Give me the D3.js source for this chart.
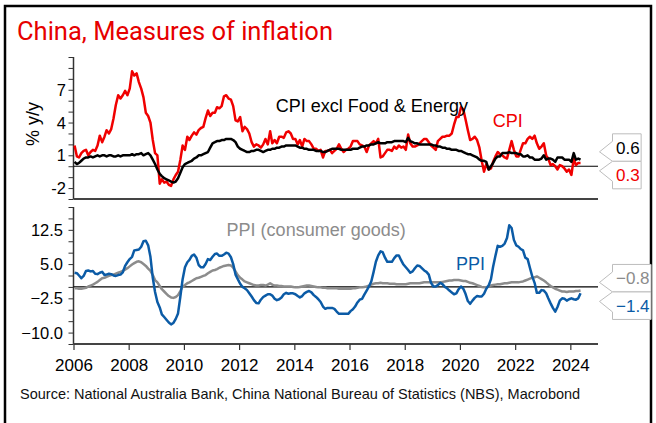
<!DOCTYPE html>
<html>
<head>
<meta charset="utf-8">
<script src="https://cdn.jsdelivr.net/npm/d3@7"></script>
<style>
  body { margin: 0; background: #fff; }
  svg { display: block; }
  text { font-family: "Liberation Sans", Arial, sans-serif; }
</style>
</head>
<body>
<svg id="chart" width="656" height="423"></svg>
<script>
// monthly y/y %, Jan 2006 .. May 2024
const startYear = 2006;

const cpi = [
  1.9,0.9,0.8,1.2,1.4,1.5,1.0,1.3,1.5,1.4,1.9,2.8,
  2.2,2.7,3.3,3.0,3.4,4.4,5.6,6.5,6.2,6.5,6.9,6.5,
  7.1,8.7,8.3,8.5,7.7,7.1,6.3,4.9,4.6,4.0,2.4,1.2,
  1.0,-1.6,-1.2,-1.5,-1.4,-1.7,-1.8,-1.2,-0.8,-0.5,0.6,1.9,
  1.5,2.7,2.4,2.8,3.1,2.9,3.3,3.5,3.6,4.4,5.1,4.6,
  4.9,4.9,5.4,5.3,5.5,6.4,6.5,6.2,6.1,5.5,4.2,4.1,
  4.5,3.2,3.6,3.4,3.0,2.2,1.8,2.0,1.9,1.7,2.0,2.5,
  2.0,3.2,2.1,2.4,2.1,2.7,2.7,2.6,3.1,3.2,3.0,2.5,
  2.5,2.0,2.4,1.8,2.5,2.3,2.3,2.0,1.6,1.6,1.4,1.5,
  0.8,1.4,1.4,1.5,1.2,1.4,1.6,2.0,1.6,1.3,1.5,1.6,
  1.8,2.3,2.3,2.3,2.0,1.9,1.8,1.3,1.9,2.1,2.3,2.1,
  2.5,0.8,0.9,1.2,1.5,1.5,1.4,1.8,1.6,1.9,1.7,1.8,
  1.5,2.9,2.1,1.8,1.8,1.9,2.1,2.3,2.5,2.5,2.2,1.9,
  1.7,1.5,2.3,2.5,2.7,2.7,2.8,2.8,3.0,3.8,4.5,4.5,
  5.4,5.2,4.3,3.3,2.4,2.5,2.7,2.4,1.7,0.5,-0.5,0.2,
  -0.3,-0.2,0.4,0.9,1.3,1.1,1.0,0.8,0.7,1.5,2.3,1.5,
  0.9,0.9,1.5,2.1,2.1,2.5,2.7,2.5,2.8,2.1,1.6,1.8,
  2.1,1.0,0.7,0.1,0.2,0.0,-0.3,0.1,0.0,-0.2,-0.5,-0.3,
  -0.8,0.7,0.1,0.3,0.3
];

const coreCpi = [
  0.4,0.2,0.3,0.5,0.7,0.8,0.8,0.9,0.8,0.9,1.0,0.9,
  1.0,1.0,0.9,1.0,1.0,0.9,0.9,1.0,0.9,1.0,1.0,1.0,
  1.0,1.1,1.0,1.1,1.1,1.2,1.0,1.1,1.2,1.0,0.6,0.2,
  -0.3,-0.7,-0.9,-1.1,-1.2,-1.3,-1.4,-1.5,-1.4,-1.1,-0.6,-0.1,
  0.2,0.3,0.4,0.5,0.7,0.8,1.0,1.0,1.1,1.2,1.3,1.7,
  2.1,2.2,2.3,2.3,2.4,2.4,2.5,2.5,2.5,2.4,2.2,1.8,
  1.6,1.5,1.4,1.3,1.3,1.4,1.4,1.5,1.5,1.4,1.3,1.4,
  1.5,1.5,1.6,1.6,1.7,1.7,1.8,1.8,1.9,1.9,1.9,1.9,
  1.9,1.8,1.7,1.7,1.6,1.6,1.5,1.5,1.5,1.4,1.4,1.4,
  1.3,1.3,1.4,1.5,1.6,1.6,1.6,1.6,1.5,1.5,1.5,1.5,
  1.5,1.6,1.6,1.6,1.7,1.8,1.8,1.9,1.9,2.0,2.0,2.1,
  2.2,2.1,2.1,2.1,2.2,2.2,2.2,2.3,2.3,2.3,2.3,2.3,
  2.2,2.6,2.3,2.2,2.1,2.1,2.0,2.0,2.0,2.0,2.0,2.0,
  1.9,1.9,1.8,1.8,1.7,1.7,1.6,1.6,1.5,1.5,1.5,1.4,
  1.4,1.3,1.2,1.1,1.1,1.0,0.9,0.8,0.6,0.5,0.5,0.4,
  -0.3,0.0,0.3,0.7,0.9,0.9,1.2,1.2,1.2,1.3,1.2,1.2,
  1.2,1.1,1.1,0.9,0.9,1.0,0.8,0.8,0.6,0.6,0.6,0.7,
  1.0,0.6,0.7,0.7,0.6,0.4,0.8,0.8,0.8,0.6,0.6,0.6,
  0.4,1.2,0.6,0.7,0.6
];

const ppi = [
  3.1,3.0,2.5,1.9,2.4,3.5,3.6,3.4,3.5,2.9,2.8,3.1,
  3.3,2.6,2.7,2.9,2.8,2.5,2.4,2.6,2.7,3.2,4.6,5.4,
  6.1,6.6,8.0,8.1,8.2,8.8,10.0,10.1,9.1,6.6,2.0,-1.1,
  -3.3,-4.5,-6.0,-6.6,-7.2,-7.8,-8.2,-7.9,-7.0,-5.8,-2.1,1.7,
  4.3,5.4,5.9,6.8,7.1,6.4,4.8,4.3,4.3,5.0,6.1,5.9,
  6.6,7.2,7.3,6.8,6.8,7.1,7.5,7.3,6.5,5.0,2.7,1.7,
  0.7,0.0,-0.3,-0.7,-1.4,-2.1,-2.9,-3.5,-3.6,-2.8,-2.2,-1.9,
  -1.6,-1.6,-1.9,-2.6,-2.9,-2.7,-2.3,-1.6,-1.3,-1.5,-1.4,-1.4,
  -1.6,-2.0,-2.3,-2.0,-1.4,-1.1,-0.9,-1.2,-1.8,-2.2,-2.7,-3.3,
  -4.3,-4.8,-4.6,-4.6,-4.6,-4.8,-5.4,-5.9,-5.9,-5.9,-5.9,-5.9,
  -5.3,-4.9,-4.3,-3.4,-2.8,-2.6,-1.7,-0.8,0.1,1.2,3.3,5.5,
  6.9,7.8,7.6,6.4,5.5,5.5,5.5,6.3,6.9,6.9,5.8,4.9,
  4.3,3.7,3.1,3.4,4.1,4.7,4.6,4.1,3.6,3.3,2.7,0.9,
  0.1,0.1,0.4,0.9,0.6,0.0,-0.3,-0.8,-1.2,-1.6,-1.4,-0.5,
  0.1,-0.4,-1.5,-3.1,-3.7,-3.0,-2.4,-2.0,-2.1,-2.1,-1.5,-0.4,
  0.3,1.7,4.4,6.8,9.0,8.8,9.0,9.5,10.7,13.5,12.9,10.3,
  9.1,8.8,8.3,8.0,6.4,6.1,4.2,2.3,0.9,-1.3,-1.3,-0.7,
  -0.8,-1.4,-2.5,-3.6,-4.6,-5.4,-4.4,-3.0,-2.5,-2.6,-3.0,-2.7,
  -2.5,-2.7,-2.8,-2.5,-1.4
];

const ppiConsumer = [
  -0.3,-0.3,-0.4,-0.4,-0.3,-0.2,0.1,0.3,0.5,0.8,1.1,1.5,
  1.9,2.0,2.2,2.4,2.6,2.7,2.9,3.1,3.3,3.5,3.8,4.1,
  4.5,4.9,5.2,5.5,5.6,5.4,5.0,4.6,4.0,3.5,2.6,1.5,
  1.0,0.2,-0.5,-1.0,-1.5,-2.0,-2.3,-2.4,-2.2,-1.8,-0.9,0.1,
  0.4,0.8,1.0,1.3,1.6,1.9,2.0,2.2,2.4,2.6,3.0,3.3,
  3.6,3.7,3.9,4.2,4.4,4.6,4.7,4.8,4.7,4.2,3.4,2.6,
  2.0,1.6,1.2,1.0,0.8,0.6,0.4,0.3,0.3,0.4,0.4,0.3,
  0.5,0.8,0.5,0.3,0.3,0.2,0.2,0.1,0.1,0.1,0.1,0.0,
  -0.1,-0.1,0.0,0.1,0.2,0.3,0.3,0.2,0.1,0.0,-0.1,-0.1,
  -0.2,-0.2,-0.3,-0.3,-0.3,-0.3,-0.3,-0.4,-0.4,-0.4,-0.4,-0.4,
  -0.4,-0.3,-0.3,-0.2,-0.1,-0.1,0.0,0.1,0.3,0.5,0.7,0.8,
  0.8,0.9,0.8,0.8,0.8,0.7,0.7,0.7,0.6,0.6,0.6,0.6,
  0.6,0.7,0.8,0.8,0.8,0.8,0.8,0.9,1.0,1.0,1.0,1.0,
  1.0,1.0,1.0,1.0,1.1,1.2,1.3,1.4,1.4,1.5,1.5,1.5,
  1.4,1.3,1.3,1.1,0.9,0.8,0.6,0.4,0.2,0.0,-0.1,-0.1,
  0.2,0.3,0.4,0.5,0.6,0.6,0.7,0.8,0.8,0.9,1.0,1.0,
  1.0,1.0,1.1,1.2,1.4,1.6,1.8,2.0,2.1,2.3,2.0,1.7,
  1.4,1.0,0.6,0.2,-0.1,-0.4,-0.6,-0.8,-1.0,-1.0,-1.1,-1.0,
  -1.0,-1.0,-0.9,-0.9,-0.8
];

const xTickYears = d3.range(2006, 2025, 2);
const topTicksLabelled = [-2, 1, 4, 7];
const bottomTicksLabelled = [-10, -2.5, 5, 12.5];

const months = cpi.map((d, i) => new Date(startYear, i, 15));

const RED = "#f00000", BLACK = "#000", BLUE = "#0b5ba6", GREY = "#8c8c8c";

const svg = d3.select("#chart");

// frame
svg.append("rect")
  .attr("x", 5).attr("y", 6)
  .attr("width", 646).attr("height", 440)
  .attr("fill", "none").attr("stroke", "#000").attr("stroke-width", 2.5);

svg.append("text")
  .attr("x", 17).attr("y", 40)
  .style("font-family", "Roboto, sans-serif")
  .style("font-size", "25.5px")
  .attr("fill", "#e60000")
  .text("China, Measures of inflation");

const x = d3.scaleTime()
  .domain([new Date(2006, 0, 1), new Date(2025, 0, 1)])
  .range([73.5, 598]);

const yTop = d3.scaleLinear().domain([-3, 10]).range([199, 57]);
const yBot = d3.scaleLinear().domain([-12.5, 17.5]).range([344, 207]);

// ---- top panel axes
const gTop = svg.append("g");
gTop.append("g")
  .attr("transform", "translate(73.5,0)")
  .call(d3.axisLeft(yTop).tickValues(d3.range(-3, 11, 1)).tickSize(5).tickFormat(""))
  .call(g => g.select(".domain").attr("stroke", "#333").attr("stroke-width", 1.5).attr("d", `M0,${yTop(10)}V${yTop(-3)}`))
  .call(g => g.selectAll(".tick line").attr("stroke", "#333"));

gTop.selectAll(".ylab")
  .data(topTicksLabelled)
  .join("text")
  .attr("x", 66).attr("y", d => yTop(d) + 6)
  .attr("text-anchor", "end")
  .style("font-size", "16.5px")
  .text(d => d);

gTop.append("line")
  .attr("x1", 73.5).attr("x2", 598)
  .attr("y1", yTop(-3)).attr("y2", yTop(-3))
  .attr("stroke", "#444").attr("stroke-width", 2);

gTop.append("line")
  .attr("x1", 73.5).attr("x2", 598)
  .attr("y1", yTop(0)).attr("y2", yTop(0))
  .attr("stroke", "#000").attr("stroke-width", 1.2);

svg.append("text")
  .attr("transform", "translate(39,124) rotate(-90)")
  .attr("text-anchor", "middle")
  .style("font-size", "18px")
  .text("% y/y");

// ---- bottom panel axes
const gBot = svg.append("g");
gBot.append("g")
  .attr("transform", "translate(73.5,0)")
  .call(d3.axisLeft(yBot).tickValues(d3.range(-12.5, 17.6, 2.5)).tickSize(5).tickFormat(""))
  .call(g => g.select(".domain").attr("stroke", "#333").attr("stroke-width", 1.5).attr("d", `M0,${yBot(17.5)}V${yBot(-12.5)}`))
  .call(g => g.selectAll(".tick line").attr("stroke", "#333"));

gBot.selectAll(".ylab")
  .data(bottomTicksLabelled)
  .join("text")
  .attr("x", 63).attr("y", d => yBot(d) + 6)
  .attr("text-anchor", "end")
  .style("font-size", "16.5px")
  .text(d => d3.format(".1f")(d));

gBot.append("g")
  .attr("transform", `translate(0,${yBot(-12.5)})`)
  .call(d3.axisBottom(x).tickValues(xTickYears.map(yr => new Date(yr, 0, 1))).tickSize(6).tickFormat(d3.timeFormat("%Y")))
  .call(g => g.select(".domain").attr("stroke", "#444").attr("stroke-width", 2).attr("d", `M73.5,0H598`))
  .call(g => g.selectAll(".tick line").attr("stroke", "#333").attr("stroke-width", 1.2))
  .call(g => g.selectAll(".tick text").attr("dy", "1.05em").style("font-size", "17px").style("font-family", "'Liberation Sans', Arial, sans-serif").attr("fill", "#000"));

gBot.append("line")
  .attr("x1", 73.5).attr("x2", 598)
  .attr("y1", yBot(0)).attr("y2", yBot(0))
  .attr("stroke", "#000").attr("stroke-width", 1.2);

// ---- series
function drawLine(values, yScale, color) {
  const line = d3.line()
    .x((d, i) => x(months[i]))
    .y(d => yScale(d));
  svg.append("path")
    .datum(values)
    .attr("d", line)
    .attr("fill", "none")
    .attr("stroke", color)
    .attr("stroke-width", 2.5)
    .attr("stroke-linejoin", "round");
}

drawLine(cpi, yTop, RED);
drawLine(coreCpi, yTop, BLACK);
drawLine(ppiConsumer, yBot, GREY);
drawLine(ppi, yBot, BLUE);

// ---- series labels
function note(txt, date, v, yScale, color) {
  svg.append("text")
    .attr("x", x(date)).attr("y", yScale(v))
    .style("font-size", "18px")
    .attr("fill", color)
    .text(txt);
}
note("CPI excl Food & Energy", new Date(2013, 4, 1), 5.0, yTop, BLACK);
note("CPI", new Date(2021, 2, 10), 3.6, yTop, RED);
note("PPI (consumer goods)", new Date(2011, 6, 20), 11.2, yBot, GREY);
note("PPI", new Date(2019, 10, 10), 3.7, yBot, BLUE);

// ---- last-value callouts
function callouts(pair, yScale) {
  const last = pair.map(p => yScale(p.values[p.values.length - 1]));
  const mid = (last[0] + last[1]) / 2;
  const h = 27.5, left = 612.5, tip = 599.5;
  pair.forEach((p, k) => {
    const top = k === 0 ? mid - h : mid;
    const bot = top + h;
    const t = svg.append("text")
      .attr("x", left + 3.5)
      .attr("y", top + h / 2 + 6)
      .style("font-size", "17px")
      .attr("fill", p.color)
      .text(d3.format(".1f")(p.values[p.values.length - 1]));
    const right = left + t.node().getComputedTextLength() + 5;
    let d;
    if (k === 0) {
      d = `M${left},${top}H${right}V${bot}H${left}L${tip},${bot - 9.5}L${left},${bot - 20}Z`;
    } else {
      d = `M${left},${top}H${right}V${bot}H${left}V${top + 20}L${tip},${top + 9.5}Z`;
    }
    svg.insert("path", "text")
      .attr("d", d)
      .attr("fill", "#fff")
      .attr("stroke", "#bdbdbd")
      .attr("stroke-width", 1);
  });
}
callouts([{ values: coreCpi, color: BLACK }, { values: cpi, color: RED }], yTop);
callouts([{ values: ppiConsumer, color: GREY }, { values: ppi, color: BLUE }], yBot);

svg.append("text")
  .attr("x", 20).attr("y", 399)
  .style("font-size", "14.5px")
  .attr("fill", "#111")
  .text("Source: National Australia Bank, China National Bureau of Statistics (NBS), Macrobond");
</script>
</body>
</html>
